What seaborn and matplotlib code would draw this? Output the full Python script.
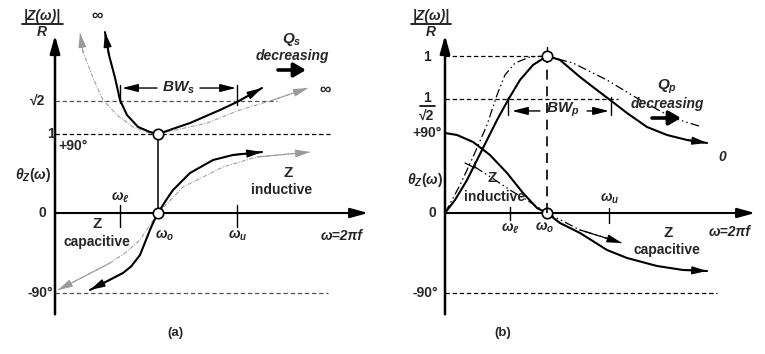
import matplotlib
matplotlib.use("Agg")
import matplotlib.pyplot as plt
import seaborn as sns

# ---------------- data ----------------
# omega in units of omega_o, |Z|/R, phase theta_Z in degrees
# Panel (a) : series resonance (high Q solid, low Q dotted grey)
a_hi_left_w = [1.0, 0.922, 0.806, 0.699, 0.631, 0.583, 0.524, 0.485]
a_hi_left_z = [1.0, 1.025, 1.09, 1.24, 1.43, 1.71, 2.0, 2.29]
a_hi_right_w = [1.0, 1.155, 1.311, 1.602, 1.767, 2.01]
a_hi_right_z = [1.0, 1.07, 1.139, 1.304, 1.405, 1.582]
a_lo_left_w = [1.0, 0.922, 0.757, 0.602, 0.466, 0.369, 0.272, 0.243]
a_lo_left_z = [1.0, 1.01, 1.09, 1.24, 1.43, 1.71, 2.04, 2.28]
a_lo_right_w = [1.0, 1.476, 1.796, 2.117, 2.456]
a_lo_right_z = [1.0, 1.139, 1.304, 1.43, 1.582]
a_ph_hi_low_w = [1.0, 0.961, 0.922, 0.825, 0.740, 0.660, 0.340]
a_ph_hi_low_d = [0.0, -9.0, -19.1, -47.3, -60.0, -67.5, -86.6]
a_ph_hi_up_w = [1.0, 1.07, 1.146, 1.311, 1.534, 1.728, 2.01]
a_ph_hi_up_d = [0.0, 13.0, 25.9, 45.0, 59.6, 65.3, 68.6]
a_ph_lo_low_w = [1.0, 0.825, 0.680, 0.534, 0.029]
a_ph_lo_low_d = [0.0, -30.4, -45.0, -56.25, -86.6]
a_ph_lo_up_w = [1.0, 1.243, 1.631, 1.961, 2.476]
a_ph_lo_up_d = [0.0, 29.25, 51.75, 63.0, 68.6]
a_marks_w = {"wl": 0.631, "wo": 1.0, "wu": 1.767}

# Panel (b) : parallel resonance (high Q solid, low Q dash-dot)
b_hi_w = [0, 0.098, 0.216, 0.314, 0.412, 0.510, 0.618, 0.735, 0.863, 1.0,
          1.127, 1.324, 1.490, 1.618, 1.784, 1.980, 2.176, 2.373, 2.569]
b_hi_z = [0, 0.083, 0.210, 0.338, 0.465, 0.592, 0.720, 0.847, 0.943, 1.0,
          0.975, 0.866, 0.783, 0.720, 0.637, 0.548, 0.497, 0.465, 0.446]
b_lo_w = [0, 0.147, 0.275, 0.412, 0.510, 0.588, 0.686, 0.833, 1.0,
          1.255, 1.588, 1.912, 2.235, 2.520]
b_lo_z = [0, 0.178, 0.357, 0.561, 0.752, 0.879, 0.955, 0.994, 1.0,
          0.955, 0.847, 0.720, 0.605, 0.548]
b_ph_hi_w = [0, 0.118, 0.275, 0.441, 0.608, 0.765, 0.902, 1.0, 1.127, 1.324,
             1.588, 1.784, 2.078, 2.333, 2.569]
b_ph_hi_d = [90, 87.75, 79.9, 65.25, 45.0, 22.5, 5.6, 0, -11.25, -22.5,
             -41.6, -50.6, -59.6, -64.1, -65.25]
b_ph_lo_w = [0.294, 0.461, 0.637, 0.833, 1.0, 1.324, 1.735]
b_ph_lo_d = [51.75, 39.4, 25.9, 12.4, 0, -19.1, -33.75]
b_marks_w = {"wl": 0.637, "wo": 1.0, "wu": 1.608}

# ---------------- layout ----------------
W, H = 765, 354
Y0 = 213          # pixel row of the omega axis
DEG_PX = 80.0     # pixels per 90 degrees
PANELS = {"a": dict(left=0.0, x0=55, wu=103.0, mu=79.0),
          "b": dict(left=382.5, x0=445, wu=102.0, mu=157.0)}

sns.set_theme(style="white")
plt.rcParams["font.family"] = ["Liberation Sans", "DejaVu Sans"]
plt.rcParams["font.weight"] = "bold"
plt.rcParams["mathtext.fontset"] = "custom"
plt.rcParams["mathtext.rm"] = "Liberation Sans:bold"
plt.rcParams["mathtext.it"] = "Liberation Sans:italic:bold"
plt.rcParams["mathtext.bf"] = "Liberation Sans:bold"

fig = plt.figure(figsize=(W / 100, H / 100), dpi=100)
fig.patch.set_facecolor("white")


def make_panel(p):
    ax = fig.add_axes([p["left"] / W, 0, 382.5 / W, 1])
    ax.set_xlim((p["left"] - p["x0"]) / p["wu"], (p["left"] + 382.5 - p["x0"]) / p["wu"])
    ax.set_ylim((Y0 - H) * 90 / DEG_PX, Y0 * 90 / DEG_PX)
    axm = ax.twinx()
    axm.set_ylim((Y0 - H) / p["mu"], Y0 / p["mu"])
    for a in (ax, axm):
        a.axis("off")
    return ax, axm


def curve(a, w, v, color="black", lw=1.5, ls="-", arrow=True, z=3):
    sns.lineplot(x=w, y=v, ax=a, sort=False, estimator=None, color=color,
                 lw=lw, linestyle=ls, zorder=z)
    if arrow:
        a.annotate("", xy=(w[-1], v[-1]), xytext=(w[-2], v[-2]),
                   arrowprops=dict(arrowstyle="-|>,head_length=0.75,head_width=0.2",
                                   color=color, lw=min(lw, 1.0), shrinkA=0, shrinkB=0),
                   zorder=z)


def arr(a, x1, y1, x2, y2, lw=1.0, hl=0.8, hw=0.2):
    a.annotate("", xy=(x2, y2), xytext=(x1, y1),
               arrowprops=dict(arrowstyle=f"-|>,head_length={hl},head_width={hw}",
                               color="black", lw=lw, shrinkA=0, shrinkB=0))


def T(x, y, s, size=10, style="normal", ha="center", **kw):
    fig.text(x / W, 1 - y / H, s, ha=ha, va="center", fontsize=size,
             fontstyle=style, fontweight="bold", **kw)


def hline_fig(x1, x2, y, lw=1.0):
    fig.add_artist(plt.Line2D([x1 / W, x2 / W], [1 - y / H, 1 - y / H],
                              color="black", lw=lw))


DASH = (0, (3.5, 2.2))
GREY_DOT = (0, (4, 1.5, 1, 1.5))
GREY = "#9a9a9a"
DASHDOT2 = (0, (7, 2.5, 1.2, 2.5, 1.2, 2.5))

# ================= panel (a) =================
pa = PANELS["a"]
ax, axm = make_panel(pa)
m2d_a = pa["mu"] * 90 / DEG_PX
# axes
arr(ax, 0, -114, 0, 200, lw=1.8, hl=0.9, hw=0.25)
arr(ax, 0, 0, (368 - pa["x0"]) / pa["wu"], 0, lw=1.5, hl=0.9, hw=0.25)
# reference lines
axm.plot([0, 2.155], [2 ** 0.5, 2 ** 0.5], color="#555555", lw=0.9, ls=DASH)
axm.plot([0, 2.67], [1, 1], color="black", lw=0.9, ls=DASH)
ax.plot([0, 2.65], [-90, -90], color="#555555", lw=0.9, ls=DASH)
ax.plot([1, 1], [0, m2d_a], color="black", lw=1.1)
for k in ("wl", "wu"):
    ax.plot([a_marks_w[k]] * 2, [9, -15.75], color="black", lw=1.0)
# curves
curve(axm, a_lo_left_w, a_lo_left_z, color=GREY, lw=0.75, ls=GREY_DOT)
curve(axm, a_lo_right_w, a_lo_right_z, color=GREY, lw=0.75, ls=GREY_DOT)
curve(axm, a_hi_left_w, a_hi_left_z)
curve(axm, a_hi_right_w, a_hi_right_z)
curve(ax, a_ph_lo_low_w, a_ph_lo_low_d, color=GREY, lw=0.75, ls=GREY_DOT)
curve(ax, a_ph_lo_up_w, a_ph_lo_up_d, color=GREY, lw=0.75, ls=GREY_DOT)
curve(ax, a_ph_hi_low_w, a_ph_hi_low_d)
curve(ax, a_ph_hi_up_w, a_ph_hi_up_d)
# BW arrows (at |Z|/R = 1.58)
bw_a = 1.582
axm.plot([a_marks_w["wl"]] * 2, [1.62, 1.39], color="black", lw=1.0)
axm.plot([a_marks_w["wu"]] * 2, [1.62, 1.37], color="black", lw=1.0)
arr(axm, (157 - 55) / 103, bw_a, a_marks_w["wl"] + 0.02, bw_a)
arr(axm, (200 - 55) / 103, bw_a, a_marks_w["wu"] - 0.01, bw_a)
# circles
for a_, yv in ((axm, 1.0), (ax, 0.0)):
    a_.plot([1.0], [yv], marker="o", ms=7.5, mfc="white", mec="black", mew=1.2, zorder=6)
# Q decreasing arrow
arr(axm, (278 - 55) / 103, (213 - 70) / 79, (306 - 55) / 103, (213 - 70) / 79, lw=2.6, hl=0.6, hw=0.35)

# texts (a)
T(42, 16, "|Z(ω)|", style="italic")
hline_fig(22, 63, 24, lw=1.2)
T(42, 32, "R", style="italic")
T(97, 15, "∞", size=11.5)
T(325, 89, "∞", size=11.5)
T(38, 101, "√2")
T(51, 134, "1")
T(58, 146, "+90°", ha="left")
T(33, 175, r"$\theta_Z(\omega)$")
T(42, 213, "0")
T(40, 293, "-90°")
T(120, 197, r"$\omega_\ell$")
T(165, 236, r"$\omega_o$")
T(238, 236, r"$\omega_u$")
T(342, 236, "ω=2πf", style="italic")
T(97, 224, "Z", size=11)
T(97, 242, "capacitive")
T(288, 173, "Z", size=11)
T(282, 190, "inductive")
T(178, 88, r"$BW_s$", size=11)
T(292, 40, r"$Q_s$", size=11)
T(292, 56, "decreasing", style="italic")
T(175, 333, "(a)", size=9.5)

# ================= panel (b) =================
pb = PANELS["b"]
bx, bxm = make_panel(pb)
m2d_b = pb["mu"] * 90 / DEG_PX
arr(bx, 0, -114, 0, 200, lw=1.8, hl=0.9, hw=0.25)
arr(bx, 0, 0, (755 - pb["x0"]) / pb["wu"], 0, lw=1.5, hl=0.9, hw=0.25)
bxm.plot([0, 1.0], [1, 1], color="black", lw=0.9, ls=DASH)
bxm.plot([0, 1.696], [0.727, 0.727], color="black", lw=0.9, ls=DASH)
bx.plot([0, 2.667], [-90, -90], color="black", lw=0.9, ls=DASH)
bxm.plot([1, 1], [0, 1], color="black", lw=1.2, ls=(0, (6, 4)))
bxm.plot([1, 1], [1, 1.06], color="black", lw=1.0)
bx.plot([b_marks_w["wl"]] * 2, [6.75, -7.9], color="black", lw=1.0)
bx.plot([b_marks_w["wu"]] * 2, [5.6, -11.25], color="black", lw=1.0)
# curves
curve(bxm, b_lo_w, b_lo_z, lw=0.9, ls=DASHDOT2, arrow=False)
curve(bxm, b_hi_w, b_hi_z)
curve(bx, b_ph_hi_w, b_ph_hi_d)
curve(bx, b_ph_lo_w, b_ph_lo_d, lw=0.9, ls=DASHDOT2)
bx.plot([0.196, 0.294, 0.294], [56.25, 50.6, 57.0], color="black", lw=0.9)
# BW arrows (at |Z|/R = 0.65)
bw_b = 0.65
bxm.plot([b_marks_w["wl"] - 0.02] * 2, [0.74, 0.625], color="black", lw=1.0)
bxm.plot([(611 - 445) / 102] * 2, [0.74, 0.625], color="black", lw=1.0)
arr(bxm, (540 - 445) / 102, bw_b, (512 - 445) / 102, bw_b)
arr(bxm, (587 - 445) / 102, bw_b, (609 - 445) / 102, bw_b)
for a_, yv in ((bxm, 1.0), (bx, 0.0)):
    a_.plot([1.0], [yv], marker="o", ms=7.5, mfc="white", mec="black", mew=1.2, zorder=6)
arr(bxm, (652 - 445) / 102, (213 - 118) / 157, (681 - 445) / 102, (213 - 118) / 157,
    lw=2.6, hl=0.6, hw=0.35)

# texts (b)
T(431, 16, "|Z(ω)|", style="italic")
hline_fig(411, 451, 24, lw=1.2)
T(431, 32, "R", style="italic")
T(427, 57, "1")
T(427, 98, "1")
hline_fig(420, 435, 106, lw=1.2)
T(427, 116, "√2")
T(427, 133, "+90°")
T(425, 180, r"$\theta_Z(\omega)$")
T(432, 213, "0")
T(425, 293, "-90°")
T(510, 228, r"$\omega_\ell$")
T(545, 228, r"$\omega_o$")
T(610, 199, r"$\omega_u$")
T(730, 232, "ω=2πf", style="italic")
T(492, 178, "Z", size=11)
T(495, 197, "inductive")
T(668, 233, "Z", size=11)
T(667, 250, "capacitive")
T(563, 110, r"$BW_p$", size=11)
T(667, 87, r"$Q_p$", size=11)
T(667, 104, "decreasing", style="italic")
T(722, 157, "0", style="italic")
T(503, 333, "(b)", size=9.5)

fig.savefig("out.png", dpi=100, facecolor="white")
